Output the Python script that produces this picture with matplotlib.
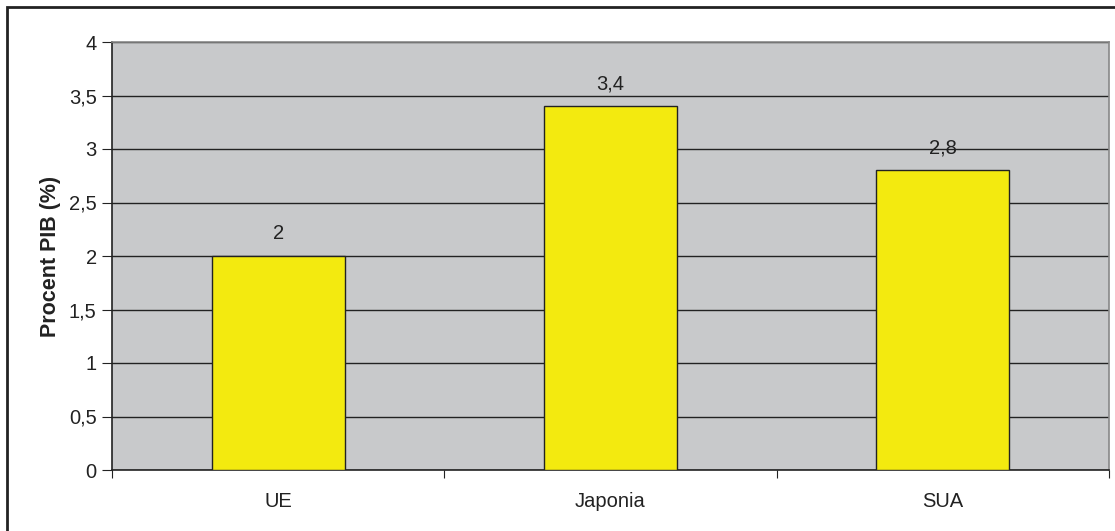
import matplotlib
matplotlib.use("Agg")
import matplotlib.pyplot as plt
from matplotlib.patches import Rectangle
from matplotlib.ticker import FuncFormatter, MultipleLocator

# Data
categories = ["UE", "Japonia", "SUA"]
values = [2.0, 3.4, 2.8]
value_labels = ["2", "3,4", "2,8"]

plt.rcParams['font.family'] = ['Liberation Sans', 'DejaVu Sans']

fig = plt.figure(figsize=(11.15, 5.31), dpi=100)
fig.patch.set_facecolor("white")
ax = fig.add_axes([112 / 1115, 1 - 470 / 531, (1109 - 112) / 1115, (470 - 42) / 531])
ax.set_facecolor("#c8c9cb")

# outer chart frame
fig.add_artist(Rectangle((7 / 1115, -0.05), 1.1, 1 - 7 / 531 + 0.05,
                         transform=fig.transFigure, fill=False,
                         edgecolor="#222222", linewidth=2))

x = list(range(len(categories)))
bars = ax.bar(x, values, width=0.4, color="#f3ea0f", edgecolor="#222222",
              linewidth=1, zorder=3)

for xi, v, lab in zip(x, values, value_labels):
    ax.text(xi, v + 0.21, lab, ha="center", va="center", fontsize=14.5, color="#222222")

ax.set_xlim(-0.5, len(categories) - 0.5)
ax.set_ylim(0, 4)
ax.yaxis.set_major_locator(MultipleLocator(0.5))
ax.yaxis.set_major_formatter(FuncFormatter(lambda v, p: f"{v:g}".replace(".", ",")))
ax.grid(axis="y", color="#222222", linewidth=1, zorder=1)
ax.set_axisbelow(True)

# category ticks between bars, labels centered
ax.set_xticks([i - 0.5 for i in range(len(categories) + 1)])
ax.set_xticklabels([])
ax.set_xticks(x, minor=True)
ax.set_xticklabels(categories, minor=True, fontsize=14.5)
ax.tick_params(axis="x", which="minor", length=0, pad=16, colors="#222222")
ax.tick_params(axis="x", which="major", length=6, direction="out", color="#222222")
ax.tick_params(axis="y", length=7, direction="out", labelsize=14.5, colors="#222222", pad=4)

ax.set_ylabel("Procent PIB (%)", fontsize=15.5, fontweight="bold", color="#222222", labelpad=6)

for s in ["left", "bottom"]:
    ax.spines[s].set_color("#222222")
    ax.spines[s].set_linewidth(1.2)
for s in ["top", "right"]:
    ax.spines[s].set_color("#888888")
    ax.spines[s].set_linewidth(1.2)

fig.savefig("out.png", dpi=100)
